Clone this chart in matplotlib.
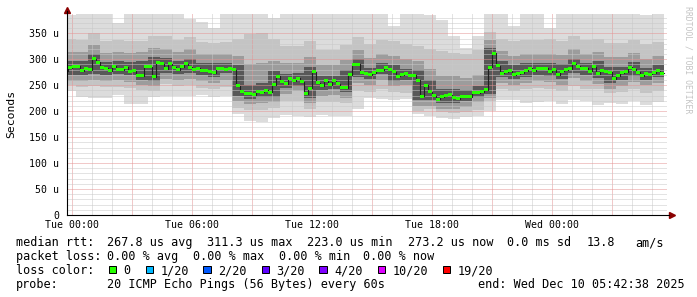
import numpy as np
import matplotlib
matplotlib.use("Agg")
import matplotlib.pyplot as plt
from matplotlib.patches import Rectangle

# median rtt (us), one value per 12 minute step, starting Mon 23:37
median_us = [
    278, 284, 286.5, 286.5, 278, 283, 279.5, 300.6, 294, 285,
    283, 277.6, 286.5, 279.5, 279.5, 285, 277, 278, 268.6, 268.6,
    286, 286, 266.7, 294, 291.7, 281.4, 291, 284.6, 280, 286,
    291, 284.6, 280.8, 283, 278, 278, 276, 274.4, 283, 283,
    280.8, 283, 279.5, 248.7, 237, 233.3, 233.3, 232, 238.5, 236,
    240.4, 236, 251.3, 267.3, 257, 253.2, 262.2, 259, 263.5, 257,
    233.3, 244.2, 276.3, 255.1, 248.7, 258.3, 250.6, 258.3, 252.6, 246.2,
    245.5, 269.9, 290.4, 290.4, 273.7, 272.4, 270.5, 274.4, 278.8, 278.8,
    283.3, 279.5, 276.3, 267.3, 270.5, 271.8, 269.2, 269.2, 259.6, 228.8,
    250, 237.2, 229.5, 223.1, 228.2, 230.8, 232, 225.6, 224.4, 227.6,
    227.6, 227.6, 235.9, 235.9, 237.8, 241.7, 284.6, 311.3, 287.2, 273.1,
    275.6, 277.6, 270.5, 272.4, 274.4, 278.2, 282.7, 278.2, 282, 282,
    282.7, 275.6, 279.5, 270.5, 276.9, 279.5, 282, 291, 286.5, 281.4,
    282.7, 276.9, 285.9, 272.4, 278.8, 275.6, 275, 262.2, 268, 273.7,
    276.3, 284.6, 280.8, 275, 268.6, 273.1, 271.2, 274.4, 277.6, 273.2,
]

# smoke (ping spread, us), one value per 36 minute block
smoke_lo1 = [238, 228, 226, 226, 231, 214, 214, 228, 229, 230, 230, 232, 228, 230, 195, 182, 180, 186, 193, 190,
             188, 192, 190, 190, 205, 225, 224, 222, 224, 195, 190, 186, 185, 188, 190, 200, 222, 222, 216, 218,
             220, 214, 222, 220, 212, 215, 214, 220, 212, 218]
smoke_hi1 = [385, 392, 392, 392, 370, 392, 392, 392, 392, 392, 378, 372, 360, 392, 392, 392, 392, 380, 392, 392,
             392, 392, 392, 392, 392, 392, 392, 365, 392, 392, 385, 375, 345, 322, 345, 392, 392, 365, 392, 392,
             360, 392, 392, 392, 392, 392, 392, 392, 385, 392]
smoke_lo2 = [250, 247, 249, 247, 247, 245, 240, 238, 252, 249, 251, 245, 243, 247, 207, 202, 203, 207, 219, 219,
             205, 217, 217, 215, 239, 237, 243, 237, 235, 200, 205, 199, 197, 199, 203, 219, 243, 239, 243, 245,
             243, 239, 249, 243, 243, 235, 237, 243, 235, 239]
smoke_hi2 = [340, 338, 350, 336, 338, 335, 336, 345, 344, 338, 342, 334, 332, 334, 340, 348, 350, 340, 325, 326,
             335, 318, 318, 328, 342, 330, 338, 335, 330, 325, 320, 315, 312, 310, 318, 352, 340, 335, 338, 338,
             340, 336, 345, 338, 340, 332, 332, 338, 330, 334]
smoke_lo3 = [259, 259, 260, 259, 260, 257, 250, 249, 262, 261, 262, 259, 255, 261, 219, 213, 216, 217, 234, 238,
             215, 230, 232, 226, 255, 251, 260, 248, 250, 210, 210, 204, 205, 209, 217, 225, 254, 251, 255, 259,
             257, 251, 263, 258, 253, 243, 249, 256, 250, 255]
smoke_hi3 = [314, 314, 327, 313, 314, 313, 314, 321, 320, 314, 319, 311, 311, 311, 307, 290, 293, 297, 292, 293,
             305, 288, 288, 299, 318, 303, 311, 307, 301, 297, 281, 267, 267, 263, 269, 337, 315, 306, 311, 310,
             311, 308, 319, 311, 314, 304, 304, 313, 301, 306]
smoke_lo4 = [270, 270, 271, 270, 271, 269, 261, 259, 273, 272, 273, 270, 266, 273, 229, 224, 228, 228, 245, 249,
             225, 241, 243, 237, 266, 262, 271, 259, 261, 221, 221, 215, 216, 220, 228, 234, 265, 262, 266, 270,
             268, 262, 274, 269, 264, 254, 260, 267, 261, 266]
smoke_hi4 = [296, 296, 310, 295, 296, 295, 296, 304, 302, 296, 301, 293, 293, 293, 289, 250, 254, 277, 272, 273,
             286, 268, 268, 280, 300, 284, 293, 289, 282, 279, 260, 242, 242, 240, 248, 321, 297, 288, 293, 292,
             293, 290, 301, 293, 296, 286, 286, 295, 283, 288]

x_labels = ["Tue 00:00", "Tue 06:00", "Tue 12:00", "Tue 18:00", "Wed 00:00"]
y_labels = ["0", "50 u", "100 u", "150 u", "200 u", "250 u", "300 u", "350 u"]
loss_labels = ["0", "1/20", "2/20", "3/20", "4/20", "10/20", "19/20"]
loss_colors = ["#26ff00", "#00b8ff", "#0059ff", "#5e00ff", "#7e00ff", "#dd00ff", "#ff0000"]

W, H = 697, 297
MONO = "DejaVu Sans Mono"
plt.rcParams["font.family"] = MONO
plt.rcParams["lines.scale_dashes"] = False

fig = plt.figure(figsize=(W / 100, H / 100), dpi=100)
fig.patch.set_facecolor("white")
ax = fig.add_axes([67 / W, 82 / H, 600 / W, 201 / H])
ax.set_xlim(-14.1, 1785.9)   # minutes from Tue 00:00
ax.set_ylim(0, 387.2)

# smoke
step_t = -23 + 12 * np.arange(len(median_us))
block_t = -23 + 36 * np.arange(len(smoke_lo1))
bands = [(smoke_lo1, smoke_hi1, "#dcdcdc"),
         (smoke_lo2, smoke_hi2, "#c4c4c4"),
         (smoke_lo3, smoke_hi3, "#9c9c9c"),
         (smoke_lo4, smoke_hi4, "#585858")]
for lo, hi, col in bands:
    lo = np.array(lo, dtype=float)
    hi = np.array(hi, dtype=float)
    ax.bar(block_t, hi - lo, bottom=lo, width=36, align="edge", color=col,
           linewidth=0, antialiased=False, zorder=1)

# grid on top of the smoke (1px on / 1px off)
dots = (0, (0.72, 0.72))
for t in range(0, 1786, 60):
    col = "#e49494" if t % 180 == 0 else "#c8c8c8"
    ax.axvline(t, color=col, lw=0.72, ls=dots, zorder=2)
for v in range(10, 387, 10):
    col = "#e49494" if v % 50 == 0 else "#c8c8c8"
    ax.axhline(v, color=col, lw=0.72, ls=dots, zorder=2)

# median line + loss coloured band
med = np.array(median_us)
ax.step(np.append(step_t, step_t[-1] + 12), np.append(med, med[-1]), where="post",
        color="#202020", lw=0.8, zorder=3)
sw = 2.9
ax.bar(step_t, 2 * sw, bottom=med - sw, width=12, align="edge", color=loss_colors[0],
       linewidth=0, antialiased=False, zorder=4)

# axes, arrows
for s in ax.spines.values():
    s.set_visible(False)
ax.plot([0, 0], [0, 1.015], transform=ax.transAxes, color="black", lw=0.8, clip_on=False, zorder=5)
ax.plot([0, 1.004], [0, 0], transform=ax.transAxes, color="black", lw=0.8, clip_on=False, zorder=5)
ax.plot([0], [1.02], marker="^", ms=4.5, color="#8b0000", transform=ax.transAxes, clip_on=False)
ax.plot([1.0075], [0], marker=">", ms=4.5, color="#8b0000", transform=ax.transAxes, clip_on=False)

ax.set_xticks([0, 360, 720, 1080, 1440], labels=x_labels)
ax.set_yticks(range(0, 351, 50), labels=y_labels)
ax.tick_params(axis="x", length=0, pad=3.5, labelsize=7.1)
ax.tick_params(axis="y", length=0, pad=5.5, labelsize=7.1)

def fx(x):
    return x / W

def fy(y):
    return 1 - y / H

fig.text(fx(11.2), fy(113.7), "Seconds", rotation=90, ha="center", va="center", fontsize=8.2)
fig.text(fx(688), fy(60), "RRDTOOL / TOBI OETIKER", rotation=270, ha="center", va="center",
         fontsize=5.9, color="#c4c4c4")

fs = 8.5
rows = [
    (246, [(16, "median rtt:"), (107.3, "267.8 us avg"), (207.3, "311.3 us max"), (306.7, "223.0 us min"),
           (407.7, "273.2 us now"), (506.7, "0.0 ms sd"), (586.7, "13.8"), (635, "am/s")]),
    (260, [(16, "packet loss:"), (107.3, "0.00 % avg"), (193.3, "0.00 % max"), (279.3, "0.00 % min"),
           (362.7, "0.00 % now")]),
    (288, [(16, "probe:"), (107.3, "20 ICMP Echo Pings (56 Bytes) every 60s"),
           (478.3, "end: Wed Dec 10 05:42:38 2025")]),
]
for base, items in rows:
    for x, s in items:
        fig.text(fx(x), fy(base), s, ha="left", va="baseline", fontsize=fs)

fig.text(fx(16), fy(274), "loss color:", ha="left", va="baseline", fontsize=fs)
box_x = [108.7, 145.7, 203.3, 261.7, 319.3, 377.7, 442.7]
for bx, lab, col in zip(box_x, loss_labels, loss_colors):
    fig.add_artist(Rectangle((fx(bx), fy(273.3)), 7.3 / W, 7.6 / H, transform=fig.transFigure,
                             facecolor=col, edgecolor="black", lw=0.72))
    fig.text(fx(bx + 14.6), fy(274), lab, ha="left", va="baseline", fontsize=fs)

fig.savefig("out.png", dpi=100, facecolor="white")
